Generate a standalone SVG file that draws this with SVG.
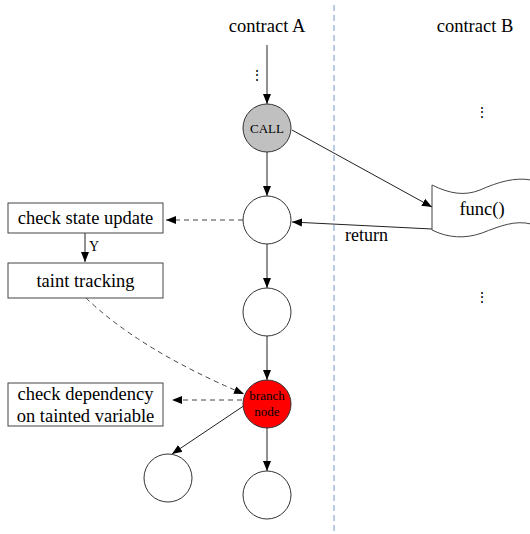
<svg xmlns="http://www.w3.org/2000/svg" width="530" height="534" viewBox="0 0 530 534">
  <style>
    text { font-family: "Liberation Serif", "Times New Roman", serif; fill: #000; }
    .lbl { font-size: 18.5px; text-anchor: middle; }
    .small { font-size: 13px; text-anchor: middle; }
    .dots { font-size: 14px; text-anchor: middle; }
    .node { fill: #fff; stroke: #333; stroke-width: 1; }
    .box { fill: #fff; stroke: #444; stroke-width: 1; }
    .edge { fill: none; stroke: #222; stroke-width: 1; marker-end: url(#arr); }
    .dash { fill: none; stroke: #444; stroke-width: 1; stroke-dasharray: 5 4; marker-end: url(#arr); }
  </style>
  <defs>
    <marker id="arr" viewBox="0 0 10 10" refX="10" refY="5" markerWidth="10" markerHeight="10" markerUnits="userSpaceOnUse" orient="auto">
      <path d="M0,1 L10,5 L0,9 Z" fill="#000"/>
    </marker>
  </defs>
  <rect width="530" height="534" fill="#fff"/>

  <!-- separator between the two contracts -->
  <line x1="334" y1="5" x2="334" y2="534" stroke="#8fa8d4" stroke-width="1.2" stroke-dasharray="6 4"/>

  <text class="lbl" x="267" y="32">contract A</text>
  <text class="lbl" x="475" y="32">contract B</text>
  <text class="dots" x="257" y="80">⋮</text>
  <text class="dots" x="482" y="117">⋮</text>
  <text class="dots" x="482" y="302">⋮</text>

  <g id="connectors">
    <line class="edge" x1="267" y1="45" x2="267" y2="104"/>
    <line class="edge" x1="267" y1="152" x2="267" y2="196"/>
    <line class="edge" x1="267" y1="244" x2="267" y2="288"/>
    <line class="edge" x1="267" y1="336" x2="267" y2="380"/>
    <line class="edge" x1="267" y1="428" x2="267" y2="471"/>
    <line class="edge" x1="292" y1="130" x2="432" y2="207"/>
    <line class="edge" x1="432" y1="229" x2="292" y2="222"/>
    <line class="edge" x1="245" y1="405" x2="172" y2="454"/>
    <line class="edge" x1="85" y1="233" x2="85" y2="262"/>
    <line class="dash" x1="243" y1="220" x2="166" y2="220"/>
    <line class="dash" x1="242" y1="400" x2="172" y2="400"/>
    <path class="dash" d="M86,298 Q140,350 244,394"/>
    <text x="345" y="241" style="font-size:18px">return</text>
    <text x="89" y="251" style="font-size:14px">Y</text>
  </g>

  <g id="n-call">
    <circle cx="267" cy="128" r="24" fill="#c0c0c0" stroke="#333"/>
    <text class="small" x="267" y="133">CALL</text>
  </g>
  <g id="n-after-call">
    <circle class="node" cx="267" cy="220" r="24"/>
  </g>
  <g id="n-mid">
    <circle class="node" cx="267" cy="312" r="24"/>
  </g>
  <g id="n-branch">
    <circle cx="267" cy="404" r="24" fill="#ff0000" stroke="#333"/>
    <text class="small" x="267" y="400">branch</text>
    <text class="small" x="267" y="416">node</text>
  </g>
  <g id="n-left">
    <circle class="node" cx="168" cy="478" r="24"/>
  </g>
  <g id="n-bottom">
    <circle class="node" cx="267" cy="495" r="24"/>
  </g>

  <g id="n-func">
    <path class="box" d="M432,185 C450,194 465,196 480,190 C498,182 515,177 531,180 L531,224 C515,220 500,226 482,233 C465,239 448,238 432,230 Z"/>
    <text class="lbl" x="482" y="215">func()</text>
  </g>

  <g id="b-state">
    <rect class="box" x="8" y="203" width="155" height="30"/>
    <text class="lbl" x="85.5" y="224">check state update</text>
  </g>
  <g id="b-taint">
    <rect class="box" x="8" y="263" width="155" height="35"/>
    <text class="lbl" x="85.5" y="287">taint tracking</text>
  </g>
  <g id="b-dep">
    <rect class="box" x="8" y="383" width="155" height="43"/>
    <text class="lbl" x="85.5" y="400">check dependency</text>
    <text class="lbl" x="85.5" y="422">on tainted variable</text>
  </g>
</svg>
